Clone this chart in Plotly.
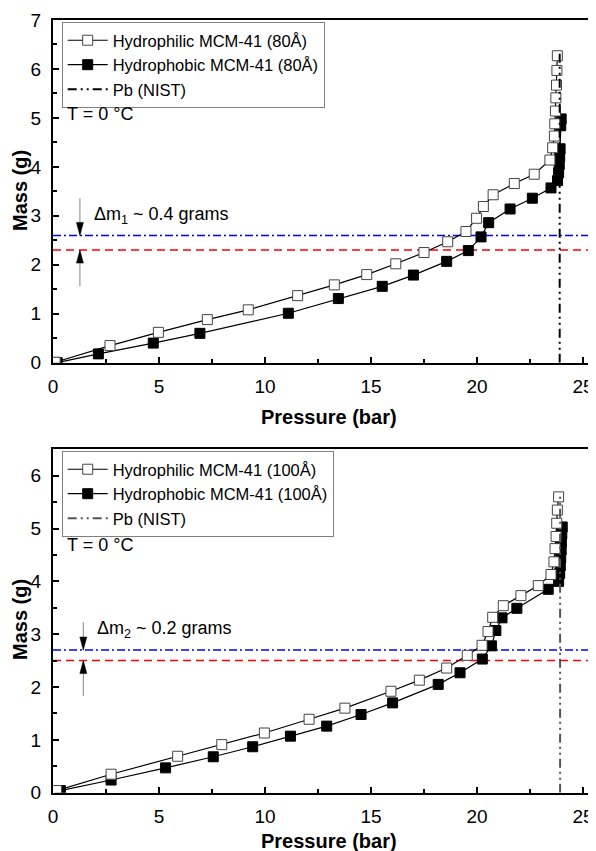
import plotly.graph_objects as go

# ---------------- data ----------------
# Top panel (80 Å)
philic80_p = [0.1, 2.69, 4.97, 7.28, 9.21, 11.54, 13.27, 14.8, 16.17, 17.5, 18.62, 19.48, 19.98, 20.3,
              20.76, 21.76, 22.7, 23.44, 23.57, 23.65, 23.67, 23.7, 23.72, 23.75, 23.77, 23.79]
philic80_m = [0.01, 0.35, 0.62, 0.88, 1.08, 1.37, 1.59, 1.80, 2.02, 2.25, 2.47, 2.68, 2.95, 3.19,
              3.43, 3.66, 3.85, 4.14, 4.39, 4.63, 4.88, 5.14, 5.41, 5.67, 5.97, 6.27]
phobic80_p = [0.2, 2.14, 4.73, 6.93, 11.1, 13.46, 15.53, 17.0, 18.57, 19.59, 20.19, 20.55, 21.56, 22.61,
              23.49, 23.8, 23.85, 23.88, 23.9, 23.92, 23.95, 23.97]
phobic80_m = [0.0, 0.18, 0.40, 0.60, 1.01, 1.31, 1.56, 1.79, 2.07, 2.29, 2.57, 2.86, 3.14, 3.36,
              3.57, 3.72, 3.88, 4.05, 4.21, 4.37, 4.84, 4.98]

# Bottom panel (100 Å)
philic100_p = [0.17, 2.74, 5.88, 7.96, 9.97, 12.08, 13.77, 15.94, 17.28, 18.57, 19.54, 20.24, 20.52, 20.74,
               21.24, 22.07, 22.89, 23.49, 23.63, 23.68, 23.73, 23.76, 23.79, 23.85]
philic100_m = [0.04, 0.35, 0.69, 0.91, 1.13, 1.39, 1.60, 1.92, 2.13, 2.36, 2.60, 2.79, 3.05, 3.32,
               3.54, 3.73, 3.92, 4.13, 4.37, 4.62, 4.85, 5.10, 5.35, 5.60]
phobic100_p = [0.35, 2.74, 5.31, 7.56, 9.42, 11.2, 12.91, 14.53, 16.02, 18.17, 19.2, 20.25, 20.68, 20.89,
               21.18, 21.88, 23.36, 23.85, 23.9, 23.93, 23.95, 23.97, 23.98, 24.0, 24.02]
phobic100_m = [0.04, 0.24, 0.47, 0.68, 0.87, 1.07, 1.26, 1.48, 1.70, 2.05, 2.27, 2.53, 2.78, 3.07,
               3.31, 3.49, 3.85, 4.0, 4.15, 4.3, 4.45, 4.6, 4.75, 4.9, 5.03]

# Saturation pressure (Pb, NIST) and reference levels
pb_top = 23.9
pb_top_span = [0, 6.35]
pb_bot = 23.92
pb_bot_span = [0, 5.65]
level_blue = [2.6, 2.7]
level_red = [2.3, 2.5]

labels_top = ["Hydrophilic MCM-41 (80Å)", "Hydrophobic MCM-41 (80Å)", "Pb (NIST)"]
labels_bot = ["Hydrophilic MCM-41 (100Å)", "Hydrophobic MCM-41 (100Å)", "Pb (NIST)"]
delta_texts = ["Δm<sub>1</sub> ~ 0.4 grams", "Δm<sub>2</sub> ~ 0.2 grams"]

FONT = "Arial, Liberation Sans, sans-serif"
OFF = 8                      # page body margin
W, H = 596 - OFF, 851 - OFF  # figure size
L = 53 - OFF                 # left margin (plot left edge at page x=53)
PW = W - L
X_MAX = PW / 21.2


def px(xp):
    """page x pixel -> paper x"""
    return (xp - OFF - L) / PW


def py(yp):
    """page y pixel -> paper y"""
    return 1 - (yp - OFF) / H


fig = go.Figure()


def add_panel(xa, ya, leg, p1, m1, p2, m2, labels, pb, pbspan, pbcolor):
    fig.add_trace(go.Scatter(x=p2, y=m2, mode="lines+markers", name=labels[1],
                             xaxis=xa, yaxis=ya, legend=leg, legendrank=2,
                             line=dict(color="black", width=1.2),
                             marker=dict(symbol="square", size=10, color="black",
                                         line=dict(color="black", width=1))))
    fig.add_trace(go.Scatter(x=p1, y=m1, mode="lines+markers", name=labels[0],
                             xaxis=xa, yaxis=ya, legend=leg, legendrank=1,
                             line=dict(color="black", width=1.2),
                             marker=dict(symbol="square", size=10, color="white",
                                         line=dict(color="#444", width=1))))
    fig.add_trace(go.Scatter(x=[pb, pb], y=pbspan, mode="lines", name=labels[2],
                             xaxis=xa, yaxis=ya, legend=leg, legendrank=3,
                             line=dict(color=pbcolor, width=2, dash="9px,4px,2px,4px,2px,4px")))


add_panel("x", "y", "legend", philic80_p, philic80_m, phobic80_p, phobic80_m, labels_top,
          pb_top, pb_top_span, "black")
add_panel("x2", "y2", "legend2", philic100_p, philic100_m, phobic100_p, phobic100_m, labels_bot,
          pb_bot, pb_bot_span, "#555555")

dom_top = [py(362.7), py(20)]
dom_bot = [py(792.7), py(449.3)]


def xaxis_cfg(anchor):
    return dict(domain=[0, 1], range=[0, X_MAX], anchor=anchor, tick0=0, dtick=5,
                ticks="inside", ticklen=6, tickwidth=1.5, tickcolor="black",
                showline=True, linewidth=2, linecolor="black", mirror=True,
                showgrid=False, zeroline=False, ticklabelstandoff=5, automargin=False,
                tickfont=dict(family=FONT, size=19, color="black"),
                minor=dict(ticks="inside", dtick=2.5, ticklen=3.5, tickwidth=1.5,
                           tickcolor="black", showgrid=False))


def yaxis_cfg(anchor, dom, rmax):
    return dict(domain=dom, range=[0, rmax], anchor=anchor, tick0=0, dtick=1,
                ticks="inside", ticklen=6, tickwidth=1.5, tickcolor="black",
                showline=True, linewidth=2, linecolor="black", mirror=False,
                showgrid=False, zeroline=False, ticklabelstandoff=6, automargin=False,
                tickfont=dict(family=FONT, size=19, color="black"),
                minor=dict(ticks="inside", dtick=0.5, ticklen=3.5, tickwidth=1.5,
                           tickcolor="black", showgrid=False))


legend_common = dict(xref="paper", yref="paper", x=px(61.7), xanchor="left", yanchor="top",
                     bgcolor="white", bordercolor="#808080", borderwidth=1,
                     font=dict(family=FONT, size=16.5, color="black"),
                     itemwidth=40, tracegroupgap=0, traceorder="normal")

fig.update_layout(
    width=W, height=H, margin=dict(l=L, r=0, t=0, b=0, autoexpand=False),
    paper_bgcolor="white", plot_bgcolor="white",
    font=dict(family=FONT, color="black"),
    xaxis=xaxis_cfg("y"), yaxis=yaxis_cfg("x", dom_top, 7),
    xaxis2=xaxis_cfg("y2"), yaxis2=yaxis_cfg("x2", dom_bot, 6.5),
    legend=dict(legend_common, y=py(22)),
    legend2=dict(legend_common, y=py(451)),
    showlegend=True,
)

# reference level lines
for xr, yr, b, r in [("x", "y", level_blue[0], level_red[0]), ("x2", "y2", level_blue[1], level_red[1])]:
    fig.add_shape(type="line", xref=xr + " domain", yref=yr, x0=0, x1=1, y0=b, y1=b,
                  line=dict(color="#0000ff", width=1.5, dash="8px,3px,2px,3px"), layer="below")
    fig.add_shape(type="line", xref=xr + " domain", yref=yr, x0=0, x1=1, y0=r, y1=r,
                  line=dict(color="#ff0000", width=1.5, dash="8px,5px"), layer="below")

# arrows (gray shaft + black head) and texts
arrow_specs = [
    ("x", "y", 1.27, 3.36, level_blue[0], 1.56, level_red[0], 1.82, 3.01, delta_texts[0], 0.57, 5.09),
    ("x2", "y2", 1.43, 3.23, level_blue[1], 1.83, level_red[1], 1.98, 3.09, delta_texts[1], 0.57, 4.68),
]
for xr, yr, ax_x, top_tail, top_head, bot_tail, bot_head, tx, ty, ttext, Tx, Ty in arrow_specs:
    for tail, head in [(top_tail, top_head), (bot_tail, bot_head)]:
        fig.add_shape(type="line", xref=xr, yref=yr, x0=ax_x, x1=ax_x, y0=tail, y1=head,
                      line=dict(color="#888", width=1))
        s = 1 if tail > head else -1
        fig.add_shape(type="path", xref=xr, yref=yr, xsizemode="pixel", ysizemode="pixel",
                      xanchor=ax_x, yanchor=head,
                      path=f"M -3.5,{13 * s} L 3.5,{13 * s} L 0,0 Z",
                      fillcolor="black", line=dict(color="black", width=0.5))
    fig.add_annotation(xref=xr, yref=yr, x=tx, y=ty, text=ttext, showarrow=False,
                       xanchor="left", yanchor="middle",
                       font=dict(family=FONT, size=18, color="black"))
    fig.add_annotation(xref=xr, yref=yr, x=Tx, y=Ty, text="T = 0 °C", showarrow=False,
                       xanchor="left", yanchor="middle",
                       font=dict(family=FONT, size=18, color="black"))

# axis titles
for ypix in [417, 841]:
    fig.add_annotation(xref="paper", yref="paper", x=px(329), y=py(ypix), text="<b>Pressure (bar)</b>",
                       showarrow=False, xanchor="center", yanchor="middle",
                       font=dict(family=FONT, size=20, color="black"))
for ypix in [191, 620]:
    fig.add_annotation(xref="paper", yref="paper", x=px(20), y=py(ypix), text="<b>Mass (g)</b>",
                       showarrow=False, xanchor="center", yanchor="middle", textangle=-90,
                       font=dict(family=FONT, size=20, color="black"))

fig.write_html("out.html")
